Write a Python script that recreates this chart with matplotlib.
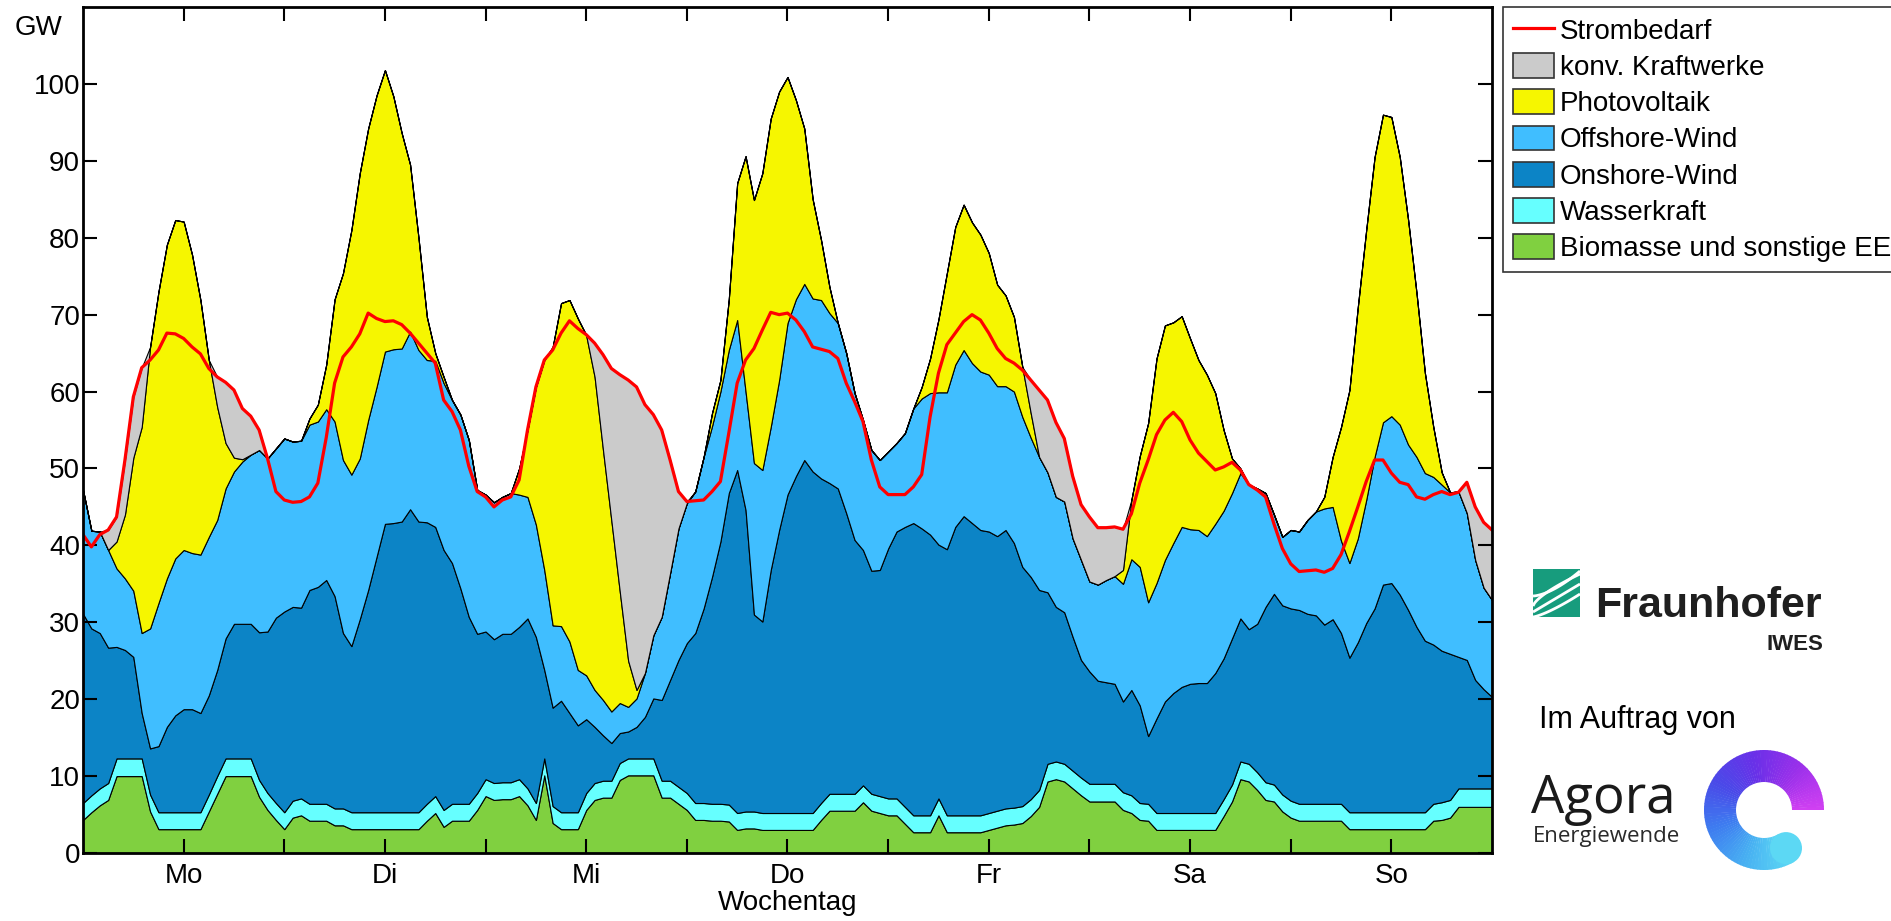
import matplotlib
matplotlib.use("Agg")
import matplotlib.pyplot as plt
from matplotlib.patches import Patch, Wedge, Rectangle, Circle
from matplotlib.lines import Line2D
import numpy as np

plt.rcParams['font.family'] = ['Liberation Sans', 'DejaVu Sans']

# ##################################################################
# Data: one week, hourly values in GW
# ##################################################################
hours = np.arange(0, 169)

bio = [4.3, 5.3, 6.2, 6.9, 10.0, 10.0, 10.0, 10.0, 5.4, 3.1,
       3.1, 3.1, 3.1, 3.1, 3.1, 5.4, 7.7, 10.0, 10.0, 10.0,
       10.0, 7.3, 5.6, 4.3, 3.1, 4.6, 4.9, 4.2, 4.2, 4.2,
       3.6, 3.6, 3.1, 3.1, 3.1, 3.1, 3.1, 3.1, 3.1, 3.1,
       3.1, 4.2, 5.2, 3.4, 4.2, 4.2, 4.2, 5.6, 7.4, 6.9,
       7.0, 7.0, 7.4, 6.2, 4.3, 10.1, 3.9, 3.1, 3.1, 3.1,
       5.6, 6.9, 7.2, 7.2, 9.5, 10.1, 10.1, 10.1, 10.1, 7.2,
       7.2, 6.4, 5.6, 4.3, 4.3, 4.2, 4.2, 4.1, 3.0, 3.2,
       3.2, 3.0, 3.0, 3.0, 3.0, 3.0, 3.0, 3.0, 4.3, 5.5,
       5.5, 5.5, 5.5, 6.6, 5.5, 5.2, 4.9, 4.9, 3.8, 2.7,
       2.7, 2.7, 4.9, 2.7, 2.7, 2.7, 2.7, 2.7, 3.0, 3.3,
       3.6, 3.7, 3.9, 4.8, 6.0, 9.3, 9.6, 9.3, 8.4, 7.5,
       6.7, 6.7, 6.7, 6.7, 5.6, 5.2, 4.3, 4.2, 3.0, 3.0,
       3.0, 3.0, 3.0, 3.0, 3.0, 3.0, 4.8, 6.7, 9.6, 9.3,
       8.2, 6.9, 6.7, 5.4, 4.6, 4.2, 4.2, 4.2, 4.2, 4.2,
       4.2, 3.1, 3.1, 3.1, 3.1, 3.1, 3.1, 3.1, 3.1, 3.1,
       3.1, 4.2, 4.3, 4.6, 6.0, 6.0, 6.0, 6.0, 6.0]

hydro = [2.2, 2.2, 2.2, 2.2, 2.3, 2.3, 2.3, 2.3, 2.2, 2.2,
         2.2, 2.2, 2.2, 2.2, 2.2, 2.2, 2.3, 2.3, 2.3, 2.3,
         2.3, 2.2, 2.2, 2.2, 2.2, 2.2, 2.2, 2.2, 2.2, 2.2,
         2.2, 2.2, 2.2, 2.2, 2.2, 2.2, 2.2, 2.2, 2.2, 2.2,
         2.2, 2.2, 2.2, 2.2, 2.2, 2.2, 2.2, 2.2, 2.2, 2.2,
         2.2, 2.2, 2.2, 2.2, 2.2, 2.2, 2.2, 2.2, 2.2, 2.2,
         2.2, 2.2, 2.2, 2.2, 2.2, 2.2, 2.2, 2.2, 2.2, 2.2,
         2.2, 2.2, 2.2, 2.2, 2.2, 2.2, 2.2, 2.2, 2.2, 2.2,
         2.2, 2.2, 2.2, 2.2, 2.2, 2.2, 2.2, 2.2, 2.2, 2.2,
         2.2, 2.2, 2.2, 2.2, 2.2, 2.2, 2.2, 2.2, 2.2, 2.2,
         2.2, 2.2, 2.2, 2.2, 2.2, 2.2, 2.2, 2.2, 2.2, 2.2,
         2.2, 2.2, 2.2, 2.2, 2.2, 2.3, 2.3, 2.3, 2.3, 2.3,
         2.3, 2.3, 2.3, 2.3, 2.3, 2.3, 2.2, 2.2, 2.2, 2.2,
         2.2, 2.2, 2.2, 2.2, 2.2, 2.2, 2.2, 2.2, 2.3, 2.3,
         2.3, 2.3, 2.2, 2.2, 2.2, 2.2, 2.2, 2.2, 2.2, 2.2,
         2.2, 2.2, 2.2, 2.2, 2.2, 2.2, 2.2, 2.2, 2.2, 2.2,
         2.2, 2.2, 2.3, 2.3, 2.4, 2.4, 2.4, 2.4, 2.4]

onshore = [24.6, 21.7, 20.2, 17.6, 14.5, 14.1, 13.2, 5.9, 6.0, 8.6,
           11.1, 12.6, 13.4, 13.4, 12.9, 12.9, 13.8, 15.6, 17.5, 17.5,
           17.5, 19.2, 21.0, 24.1, 26.1, 25.2, 24.8, 27.8, 28.2, 29.1,
           27.6, 22.8, 21.6, 25.1, 28.9, 33.2, 37.5, 37.6, 37.8, 39.4,
           37.8, 36.6, 35.0, 33.8, 31.3, 28.0, 24.3, 20.7, 19.2, 18.7,
           19.3, 19.3, 19.8, 22.1, 21.6, 11.5, 12.8, 14.5, 12.9, 11.3,
           9.6, 7.3, 5.9, 4.9, 3.9, 3.5, 4.1, 5.4, 7.8, 10.5,
           13.1, 16.5, 19.5, 22.1, 25.3, 29.5, 34.1, 40.5, 44.6, 39.2,
           25.6, 24.9, 31.6, 36.8, 41.4, 43.8, 45.9, 44.4, 42.2, 40.4,
           39.7, 36.5, 33.0, 30.6, 29.0, 29.4, 32.5, 34.7, 36.4, 38.0,
           37.3, 36.5, 33.0, 34.6, 37.5, 38.9, 38.0, 37.1, 36.6, 35.7,
           36.2, 34.4, 31.1, 28.9, 26.0, 22.3, 20.1, 19.7, 17.4, 15.3,
           14.6, 13.4, 13.2, 13.0, 11.8, 13.7, 12.7, 8.8, 12.3, 14.5,
           15.6, 16.4, 16.8, 16.9, 16.9, 18.2, 18.3, 19.0, 18.6, 17.5,
           19.3, 22.8, 24.8, 24.6, 25.0, 25.2, 24.7, 24.5, 23.3, 24.0,
           22.2, 20.1, 22.1, 24.6, 26.5, 29.6, 29.8, 28.3, 26.3, 24.1,
           22.3, 20.7, 19.7, 19.0, 17.1, 16.7, 14.1, 12.9, 11.9]

offshore = [16.1, 12.7, 13.2, 12.7, 10.2, 9.3, 8.6, 10.4, 15.6, 18.6,
            19.3, 20.4, 20.7, 20.3, 20.6, 20.6, 19.5, 19.5, 19.8, 21.1,
            22.0, 23.7, 22.5, 22.0, 22.5, 21.5, 21.7, 21.5, 21.5, 22.2,
            22.7, 22.5, 22.3, 20.9, 22.1, 22.1, 22.4, 22.6, 22.5, 23.1,
            22.3, 21.1, 21.6, 21.7, 21.2, 22.6, 23.0, 18.7, 17.8, 17.8,
            17.8, 18.3, 17.2, 15.8, 14.6, 13.0, 10.7, 9.7, 9.3, 7.2,
            5.7, 4.8, 4.6, 4.1, 3.9, 3.2, 3.7, 5.7, 8.2, 10.8,
            13.9, 17.1, 18.2, 18.4, 19.7, 19.6, 19.5, 18.6, 19.5, 15.4,
            19.7, 19.7, 18.6, 19.5, 22.3, 23.0, 22.9, 22.5, 23.2, 22.1,
            21.5, 20.8, 19.1, 16.9, 15.7, 14.3, 12.6, 11.5, 12.2, 14.9,
            16.9, 18.4, 19.8, 20.4, 21.1, 21.6, 20.8, 20.6, 20.4, 19.5,
            18.7, 19.7, 19.5, 18.1, 17.3, 15.6, 14.3, 14.4, 12.8, 13.0,
            11.7, 12.5, 13.3, 14.0, 15.3, 17.0, 18.0, 17.4, 17.6, 18.4,
            19.5, 20.8, 20.1, 19.9, 19.1, 19.4, 19.2, 18.9, 18.9, 18.8,
            17.6, 14.8, 10.3, 8.9, 10.2, 10.2, 12.2, 13.5, 15.1, 14.6,
            12.0, 12.3, 13.5, 16.0, 19.7, 21.1, 21.7, 22.1, 21.5, 22.1,
            21.8, 21.8, 21.6, 21.0, 21.5, 19.1, 15.6, 13.2, 12.6]

pv = [0, 0, 0, 0, 3.5, 8.3, 17.3, 26.8, 36.6, 40.5,
      43.4, 44.0, 42.7, 38.8, 33.1, 23.0, 14.7, 5.9, 1.8, 0.3,
      0, 0, 0, 0, 0, 0, 0, 0.8, 2.2, 5.8,
      15.9, 24.3, 31.8, 37.1, 37.9, 37.9, 36.6, 32.9, 28.0, 21.7,
      14.6, 5.6, 1.0, 0.8, 0, 0, 0, 0, 0, 0,
      0, 0, 3.4, 8.7, 17.9, 27.3, 36.2, 42.0, 44.4, 45.7,
      44.2, 40.7, 32.5, 24.8, 14.5, 6.0, 1.1, 0, 0, 0,
      0, 0, 0, 0, 0, 1.7, 1.5, 6.6, 17.8, 30.6,
      34.2, 38.6, 40.1, 37.5, 32.0, 25.9, 20.2, 12.9, 7.8, 3.4,
      0, 0, 0, 0, 0, 0, 0, 0, 0, 0,
      1.5, 4.5, 9.5, 15.5, 17.9, 18.9, 18.3, 17.8, 15.8, 13.2,
      11.8, 9.7, 6.5, 3.2, 0, 0, 0, 0, 0, 0,
      0, 0, 0, 0, 1.8, 7.7, 14.4, 23.3, 29.2, 30.5,
      28.7, 27.4, 24.8, 22.1, 21.0, 17.0, 10.5, 4.5, 0.6, 0,
      0, 0, 0, 0, 0, 0, 0, 0, 1.5, 6.5,
      14.8, 22.5, 30.1, 35.1, 39.0, 40.0, 38.9, 34.8, 29.2, 21.3,
      13.0, 6.5, 1.6, 0, 0, 0, 0, 0, 0]

konv = [0, 0, 0, 2.6, 3.2, 7.1, 7.9, 7.7, 0, 0,
        0, 0, 0, 0, 0, 0, 3.9, 7.9, 8.8, 6.6,
        5.0, 2.6, 0, 0, 0, 0, 0, 0, 0, 0,
        0, 0, 0, 0, 0, 0, 0, 0, 0, 0,
        0, 0, 0, 0, 0, 0, 0, 0, 0, 0,
        0, 0, 0, 0, 0, 0, 0, 0, 0, 0,
        0.1, 4.4, 12.4, 19.8, 28.2, 36.5, 39.4, 34.9, 28.7, 24.3,
        14.7, 4.8, 0.2, 0, 0, 0, 0, 0, 0, 0,
        0, 0, 0, 0, 0, 0, 0, 0, 0, 0,
        0, 0, 0, 0, 0, 0, 0, 0, 0, 0,
        0, 0, 0, 0, 0, 0, 0, 0, 0, 0,
        0, 0, 0, 4.3, 8.7, 9.4, 9.7, 8.2, 8.1, 7.2,
        8.4, 7.4, 6.8, 6.4, 5.3, 0, 0, 0, 0, 0,
        0, 0, 0, 0, 0, 0, 0, 0, 0, 0,
        0, 0, 0, 0, 0, 0, 0, 0, 0, 0,
        0, 0, 0, 0, 0, 0, 0, 0, 0, 0,
        0, 0, 0, 0, 0, 4.0, 6.9, 8.5, 9.1]

demand = [41.4, 39.8, 41.4, 42.0, 43.7, 51.1, 59.3, 63.1, 64.1, 65.4,
          67.6, 67.5, 66.9, 65.8, 64.9, 63.0, 61.9, 61.2, 60.2, 57.8,
          56.8, 55.0, 51.3, 47.0, 45.9, 45.6, 45.7, 46.3, 48.1, 54.0,
          61.1, 64.5, 65.8, 67.5, 70.2, 69.5, 69.1, 69.2, 68.7, 67.6,
          66.3, 65.0, 63.7, 58.9, 57.4, 55.0, 50.3, 47.0, 46.3, 45.0,
          45.9, 46.3, 48.5, 55.0, 60.6, 64.1, 65.4, 67.6, 69.2, 68.2,
          67.4, 66.3, 64.8, 63.0, 62.2, 61.5, 60.6, 58.3, 57.0, 55.0,
          51.1, 47.0, 45.7, 45.8, 45.9, 47.0, 48.3, 54.6, 61.1, 64.1,
          65.6, 68.0, 70.3, 70.0, 70.2, 69.3, 67.8, 65.8, 65.5, 65.2,
          64.3, 61.1, 58.7, 56.1, 51.1, 47.6, 46.6, 46.6, 46.6, 47.6,
          49.2, 56.7, 62.4, 66.1, 67.6, 69.1, 70.0, 69.3, 67.6, 65.6,
          64.3, 63.7, 62.8, 61.5, 60.2, 58.9, 56.0, 53.9, 49.0, 45.3,
          43.7, 42.3, 42.3, 42.4, 42.1, 44.1, 48.1, 51.1, 54.4, 56.3,
          57.3, 56.1, 53.7, 52.0, 50.9, 49.8, 50.2, 50.8, 49.8, 47.9,
          47.2, 46.3, 42.8, 39.6, 37.6, 36.6, 36.7, 36.8, 36.5, 37.0,
          38.8, 41.8, 45.0, 48.3, 51.1, 51.1, 49.4, 48.2, 47.9, 46.3,
          46.0, 46.6, 47.0, 46.6, 46.9, 48.2, 45.0, 43.0, 42.0]

day_ticks = list(range(12, 157, 12))
day_labels = ['Mo', '', 'Di', '', 'Mi', '', 'Do', '', 'Fr', '', 'Sa', '', 'So']

series_names = ['Biomasse und sonstige EE', 'Wasserkraft', 'Onshore-Wind',
                'Offshore-Wind', 'Photovoltaik', 'konv. Kraftwerke']
series_colors = ['#80d040', '#66ffff', '#0c84c6', '#40beff', '#f6f600', '#cbcbcb']

# ##################################################################
# Figure in pixel layout
# ##################################################################
W, H = 1891, 921
fig = plt.figure(figsize=(W / 100, H / 100), dpi=100)


def px_rect(x0, y0, x1, y1):
    return [x0 / W, 1 - y1 / H, (x1 - x0) / W, (y1 - y0) / H]


ax = fig.add_axes(px_rect(83, 7, 1492, 853))
ax.stackplot(hours, bio, hydro, onshore, offshore, pv, konv,
             colors=series_colors, edgecolor='black', linewidth=0.8)
ax.plot(hours, demand, color='#ff0000', linewidth=2.3)

ax.set_xlim(0, 168)
ax.set_ylim(0, 110)
ax.set_yticks(range(0, 101, 10))
ax.set_xticks(day_ticks)
ax.set_xticklabels(day_labels)
ax.tick_params(direction='in', length=10, width=1.5, top=True, right=True, labelsize=20)
ax.tick_params(axis='y', pad=2)
ax.tick_params(axis='x', pad=7)
for s in ax.spines.values():
    s.set_linewidth(2)
ax.set_xlabel('Wochentag', fontsize=20, labelpad=1)
fig.text(15 / W, 1 - 35 / H, 'GW', fontsize=20, va='baseline')

# legend (runs past the right edge like the original)
handles = [Line2D([], [], color='#ff0000', linewidth=2.3)]
labels = ['Strombedarf']
for name, col in reversed(list(zip(series_names, series_colors))):
    handles.append(Patch(facecolor=col, edgecolor='#333333', linewidth=1.2))
    labels.append(name)
leg = fig.legend(handles, labels, loc='upper left', bbox_to_anchor=(1503 / W, 1 - 7 / H),
                 frameon=True, fancybox=False, edgecolor='black', fontsize=20,
                 borderaxespad=0, borderpad=0.35, handlelength=1.5, handleheight=1.0,
                 handletextpad=0.2, labelspacing=0.3)
leg.get_frame().set_linewidth(1.2)

# ##################################################################
# Logos (drawn approximately)
# ##################################################################
lx = fig.add_axes([0, 0, 1, 1])
lx.set_xlim(0, W)
lx.set_ylim(H, 0)
lx.axis('off')

lx.add_patch(Rectangle((1533, 569), 47, 48, facecolor='#179c7d', edgecolor='none'))
t = np.linspace(0, 1, 30)
for k, (y0, y1) in enumerate([(606, 574), (612, 584), (617, 594), (596, 571)]):
    xs = 1533 + 47 * t
    ys = y0 + (y1 - y0) * t ** (0.7 + 0.3 * k)
    lx.plot(xs, ys, color='white', linewidth=2.0, solid_capstyle='butt')
lx.text(1595, 617, 'Fraunhofer', fontsize=31, fontweight='bold', color='#1f1f1f', va='baseline')
lx.text(1823, 650, 'IWES', fontsize=16, fontweight='bold', color='#1f1f1f', va='baseline', ha='right')
lx.text(1539, 728, 'Im Auftrag von', fontsize=22, color='black', va='baseline')
lx.text(1531, 813, 'Agora', fontsize=38, color='#1a1a1a', va='baseline',
        family=['Open Sans', 'Liberation Sans'])
lx.text(1533, 842, 'Energiewende', fontsize=16, color='#2a2a2a', va='baseline',
        family=['Open Sans', 'Liberation Sans'])

# gradient ring, open towards the lower right
cx, cy, r_out, r_in = 1764, 810, 60, 28
ring_cols = ['#d040f2', '#9a30ea', '#6a30e8', '#4a4ae8', '#3e7cf0', '#48b0f2', '#5cd8f4']
n = 90
for i in range(n):
    a0 = 300.0 * i / n
    a1 = 300.0 * (i + 1) / n + 0.6
    f = i / (n - 1) * (len(ring_cols) - 1)
    j = min(int(f), len(ring_cols) - 2)
    c0 = np.array(matplotlib.colors.to_rgb(ring_cols[j]))
    c1 = np.array(matplotlib.colors.to_rgb(ring_cols[j + 1]))
    col = c0 + (c1 - c0) * (f - j)
    lx.add_patch(Wedge((cx, cy), r_out, -a1, -a0, width=r_out - r_in, facecolor=col, edgecolor='none'))
end = np.deg2rad(300)
rm = (r_out + r_in) / 2
lx.add_patch(Circle((cx + rm * np.cos(end), cy - rm * np.sin(end)), (r_out - r_in) / 2,
                    facecolor=ring_cols[-1], edgecolor='none'))

fig.savefig('out.png', dpi=100)
